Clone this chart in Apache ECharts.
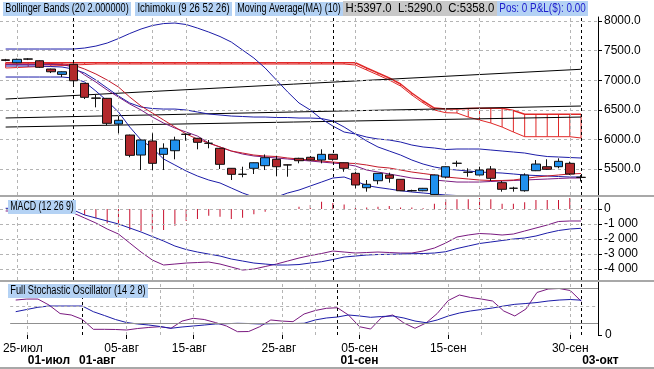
<!DOCTYPE html>
<html><head><meta charset="utf-8">
<script src="https://cdn.jsdelivr.net/npm/echarts@6/dist/echarts.min.js"></script>
<style>html,body{margin:0;padding:0;background:#fff}#c{width:654px;height:369px}</style>
</head><body><div id="c"></div>
<script>
// ---------- DATA ----------
const categories = ['b1','b2','b3','b4','b5','b6','b7','b8','b9','b10','b11','b12','b13','b14','b15','b16','b17','b18','b19','b20','b21','b22','b23','b24','b25','b26','b27','b28','b29','b30','b31','b32','b33','b34','b35','b36','b37','b38','b39','b40','b41','b42','b43','b44','b45','b46','b47','b48','b49','b50','b51','b52','b53'];
const openP  = [7345,7295,7360,7329,7189,7099,7268,6947,6700,6694,6260,6074,5736,5973,5748,5809,6088,6019,5936,5850,5512,5412,5512,5556,5664,5570,5681,5698,5652,5748,5606,5427,5184,5302,5399,5326,5135,5133,5070,5365,5598,5446,5399,5500,5269,5176,5133,5471,5539,5539,5596,5360];
const closeP = [7335,7353,7356,7218,7143,7143,6991,6711,6695,6272,6323,5731,5990,5596,5850,5990,6085,5951,5934,5579,5410,5410,5606,5691,5539,5568,5640,5652,5748,5664,5512,5230,5242,5427,5343,5133,5133,5174,5399,5539,5596,5444,5483,5343,5157,5174,5399,5584,5495,5630,5416,5358];
const lowP   = [7320,7290,7340,7206,7121,7054,6902,6682,6542,6238,6103,5698,5483,5483,5483,5664,5978,5833,5850,5500,5314,5360,5416,5483,5382,5370,5596,5640,5596,5640,5454,5174,5117,5242,5269,5128,5120,5125,5050,5340,5539,5370,5395,5297,5117,5117,5117,5465,5483,5512,5399,5290];
const highP  = [7360,7365,7372,7335,7195,7150,7279,6950,6750,6700,6395,6080,6000,6103,5934,6046,6095,6025,5990,5855,5515,5539,5610,5746,5724,5575,5690,5720,5833,5755,5610,5454,5314,5430,5438,5330,5150,5180,5405,5545,5640,5512,5539,5550,5297,5200,5427,5652,5664,5681,5625,5397];
const bbUpper = [7527,7527,7527,7527,7527,7527,7527,7544,7577,7628,7704,7789,7865,7924,7957,7966,7941,7881,7814,7738,7645,7510,7375,7206,7003,6801,6615,6497,6345,6226,6125,6091,6040,6007,5990,5956,5905,5872,5855,5829,5838,5838,5838,5821,5804,5787,5770,5736,5711,5703,5694,5686];
const bbLower = [7054,7054,7054,7054,7054,7054,7037,6969,6817,6649,6463,6209,5990,5855,5669,5568,5466,5382,5314,5264,5179,5095,5027,4993,5027,5095,5145,5213,5280,5348,5365,5297,5221,5188,5162,5133,5112,5095,5078,5061,5052,5044,5044,5044,5044,5044,5044,5044,5044,5044,5044,5044];
const kijun   = [7240,7240,7240,7240,7231,7223,7189,7121,7003,6868,6733,6615,6547,6522,6513,6513,6497,6463,6429,6412,6395,6387,6378,6378,6370,6370,6361,6361,6353,6311,6209,6091,5973,5872,5804,5736,5652,5584,5534,5500,5483,5466,5449,5441,5432,5416,5399,5390,5382,5373,5365,5365];
const tenkan  = [7265,7265,7265,7265,7265,7265,7223,7088,6969,6834,6716,6598,6497,6378,6277,6192,6125,6057,5939,5872,5804,5753,5720,5703,5686,5669,5652,5635,5618,5601,5584,5551,5483,5449,5416,5382,5348,5331,5314,5297,5280,5280,5280,5289,5297,5306,5314,5323,5331,5340,5348,5348];
const ma10    = [7290,7290,7290,7290,7282,7273,7257,7189,7105,7003,6885,6716,6564,6446,6328,6209,6091,6007,5939,5872,5804,5770,5736,5720,5711,5686,5669,5652,5635,5618,5601,5593,5568,5534,5517,5483,5449,5424,5399,5365,5348,5331,5314,5306,5306,5314,5340,5365,5382,5399,5416,5424];
const senkouA = [7206,7214,7223,7231,7240,7248,7257,7265,7273,7273,7273,7273,7273,7273,7273,7273,7273,7273,7273,7273,7273,7273,7273,7273,7273,7273,7273,7273,7273,7273,7273,7257,7172,7088,7003,6902,6750,6615,6497,6451,6446,6378,6328,6277,6209,6125,6046,6046,6046,6046,6046,6024];
const senkouB = [7295,7295,7295,7295,7295,7295,7295,7295,7295,7295,7295,7295,7295,7295,7295,7295,7295,7295,7295,7295,7295,7295,7295,7295,7295,7295,7295,7295,7295,7295,7295,7295,7206,7121,7037,6936,6784,6649,6530,6513,6513,6522,6525,6525,6525,6488,6424,6424,6424,6424,6424,6424];
const trend1 = [6682, 7185];
const trend2 = [6362, 6564];
const trend3 = [6209, 6378];
const macdHist = [0,0,0,0,0,0,-150,-400,-620,-950,-1180,-1400,-1470,-1550,-1400,-1110,-800,-670,-450,-510,-670,-580,-350,-180,-70,0,150,270,480,400,300,100,100,150,200,100,100,50,350,650,650,650,750,650,350,350,450,600,600,600,750,42];
const macdLine = [-133,-133,-133,-167,-200,-233,-267,-600,-934,-1334,-1668,-2268,-2868,-3402,-3735,-3669,-3602,-3568,-3535,-3669,-3869,-4069,-4002,-3835,-3669,-3468,-3268,-3102,-2968,-2801,-2868,-2935,-2901,-2868,-2901,-2935,-2935,-2801,-2601,-2268,-1868,-1734,-1634,-1668,-1734,-1668,-1467,-1267,-1067,-834,-800,-800];
const macdSignal = [47,33,20,0,-20,-40,-67,-400,-600,-800,-1000,-1267,-1534,-1834,-2134,-2468,-2701,-2868,-3002,-3135,-3335,-3468,-3602,-3669,-3735,-3735,-3702,-3602,-3515,-3368,-3202,-3135,-3068,-3035,-3021,-3002,-2981,-2968,-2935,-2848,-2635,-2468,-2301,-2201,-2101,-2001,-1934,-1801,-1601,-1434,-1334,-1287];
const stochK = [60.3,62,62,51.7,37,34.5,27,9.8,9.8,9.5,8.6,11.2,13,14.3,11.6,24,28.8,26.7,21.5,15.5,5.7,6,14.3,25.9,24,23,36.2,42.2,46,47,34.5,14.3,10.3,30.5,34.5,20.7,11.6,20.7,37,59.5,69,64.7,62,58.6,41.4,32.8,44.8,73.3,79.3,80.2,76.7,58];
const stochD = [40.2,44,47.8,50,50,50,50,40.2,33.6,26.7,21.5,19,17.2,14.7,11.6,13.8,15.5,17.2,19,19.5,20.2,19.8,19,19.5,19.8,19.8,20.2,25.9,29.3,31,34.5,32.8,30.5,31.9,32.8,29.3,24.1,21.2,25.9,32.8,37.9,41.4,44,46.6,50,52.9,54.3,56,58.6,60.3,61.2,60];
const priceTicks = [5500,6000,6500,7000,7500,8000];
const macdTicks = [0,-1000,-2000,-3000,-4000];
const stochLevels = [20,50,80];
const macdLast = 41.87;
const stochLast = 56.82;
const vGrid = [1,10,13,16,24,27,31,39,42,50];
const vMark = [6,29,51];
const dayLabels = {1:'25-июл',10:'05-авг',16:'15-авг',24:'25-авг',31:'05-сен',39:'15-сен',50:'30-сен'};
const monthLabels = {3:'01-июл',6:'01-авг',31:'01-сен',52:'03-окт'};
const dayShift = {1:'l8',10:'l10',16:'l8',24:'l6',31:'c',39:'c',50:'c'};
const monthShift = {3:'c',6:'r30',31:'c',52:'r16'};
const legendTexts = ['Bollinger Bands (20 2.000000)','Ichimoku (9 26 52 26)','Moving Average(MA) (10)'];
const ohlcText = 'H:5397.0  L:5290.0  C:5358.0';
const posText = 'Pos: 0 P&L($): 0.00';

// ---------- BUILD ----------
const FONT = '"Liberation Sans", Arial, sans-serif';
const lastClose = closeP[closeP.length-1];
const candleData = openP.map((o,i)=>[o, closeP[i], lowP[i], highP[i]]);
const cloudData = senkouA.map((a,i)=>[i, a, senkouB[i]]);
const NAVY = '#1c1ca8', PURPLE = '#7a1a80', RED = '#c41a2a', CLOUD = '#e02828';
function vLineData(list){ return list.map(i=>({xAxis: categories[i]})); }
function fmtThousands(v){ if(v===0) return '0'; const s=Math.abs(v).toString().replace(/\B(?=(\d{3})+(?!\d))/g,' '); return (v<0?'-':'')+s; }
const baseLbl = {fontFamily:FONT,fontSize:12,color:'#000'};
const richShift = {
  c:Object.assign({},baseLbl),
  l4:Object.assign({},baseLbl,{padding:[0,4,0,0]}),
  l6:Object.assign({},baseLbl,{padding:[0,6,0,0]}),
  l8:Object.assign({},baseLbl,{padding:[0,8,0,0]}),
  l10:Object.assign({},baseLbl,{padding:[0,10,0,0]}),
  l16:Object.assign({},baseLbl,{padding:[0,16,0,0]}),
  r16:Object.assign({},baseLbl,{padding:[0,0,0,16]}),
  r30:Object.assign({},baseLbl,{padding:[0,0,0,30]})
};
const richBold = {};
Object.keys(richShift).forEach(k=>{ richBold[k] = Object.assign({}, richShift[k], {fontWeight:'bold'}); });

const gridLine = {color:'#b4b4b4', type:[3,3], width:1};
const blackDash = {color:'#000', type:[3,3], width:1};

function xAx(gi, extra){
  return Object.assign({type:'category', gridIndex:gi, data:categories, boundaryGap:true,
    axisLine:{show:false}, axisTick:{show:false}, axisLabel:{show:false}, splitLine:{show:false}}, extra||{});
}
// text tag squeezed horizontally to a target box width
const measureCtx = document.createElement('canvas').getContext('2d');
function tag(text, x0, x1, y, size, fill, bg){
  const font = size + 'px ' + FONT;
  measureCtx.font = font;
  const w = measureCtx.measureText(text).width + 6;
  const s = Math.min(1.05, (x1 - x0) / w);
  return {type:'text', x:x0, y:y, scaleX:s, scaleY:1, originX:0, originY:0, z:60, silent:true,
    style:{text:text, font:font, fill:fill, backgroundColor:bg, padding:[1,3,1,3], verticalAlign:'top', align:'left'}};
}

const option = {
  animation:false,
  backgroundColor:'#fff',
  grid:[
    {left:0, right:56, top:17, height:178},
    {left:0, right:56, top:198, height:82},
    {left:0, right:56, top:282, height:53}
  ],
  xAxis:[
    xAx(0), xAx(1),
    xAx(2, {axisTick:{show:true, alignWithLabel:true, length:4, lineStyle:{color:'#000'}, interval:(i)=>dayLabels[i]!==undefined},
      axisLabel:{show:true, interval:(i)=>dayLabels[i]!==undefined, margin:8,
        formatter:(v,i)=>dayLabels[i]?('{'+dayShift[i]+'|'+dayLabels[i]+'}'):'', rich:richShift}}),
    xAx(2, {position:'bottom', offset:0, axisLabel:{show:true, interval:(i)=>monthLabels[i]!==undefined, margin:20,
        formatter:(v,i)=>monthLabels[i]?('{'+monthShift[i]+'|'+monthLabels[i]+'}'):'', rich:richBold}})
  ],
  yAxis:[
    {type:'value', gridIndex:0, position:'right', min:5061, max:8068, scale:true,
      axisLine:{show:true, lineStyle:{color:'#000'}}, axisTick:{show:true, customValues:priceTicks, length:4, lineStyle:{color:'#000'}},
      axisLabel:{customValues:priceTicks, formatter:v=>v.toFixed(1), color:'#000', fontSize:12, fontFamily:FONT, margin:6}, splitLine:{show:false}},
    {type:'value', gridIndex:1, position:'right', min:-4733, max:733,
      axisLine:{show:true, lineStyle:{color:'#000'}}, axisTick:{show:true, customValues:macdTicks, length:4, lineStyle:{color:'#000'}},
      axisLabel:{customValues:macdTicks, formatter:fmtThousands, color:'#000', fontSize:12, fontFamily:FONT, margin:6}, splitLine:{show:false}},
    {type:'value', gridIndex:2, position:'right', min:0, max:91.4,
      axisLine:{show:true, lineStyle:{color:'#000'}}, axisTick:{show:true, customValues:[0], length:4, lineStyle:{color:'#000'}},
      axisLabel:{customValues:[0], formatter:v=>String(v), color:'#000', fontSize:12, fontFamily:FONT, margin:7}, splitLine:{show:false}}
  ],
  series:[
    // grid 0 helpers
    {type:'line', xAxisIndex:0, yAxisIndex:0, data:[], z:0, silent:true,
      markLine:{symbol:'none', silent:true, label:{show:false}, animation:false,
        data:[].concat(priceTicks.map(v=>({yAxis:v, lineStyle:gridLine})),
                       vLineData(vGrid).map(d=>Object.assign(d,{lineStyle:gridLine})),
                       vLineData(vMark).map(d=>Object.assign(d,{lineStyle:blackDash})))}},
    {type:'custom', xAxisIndex:0, yAxisIndex:0, z:1, silent:true, data:cloudData, encode:{x:0, y:[1,2]},
      renderItem:(params, api)=>{
        const p1 = api.coord([api.value(0), api.value(1)]);
        const p2 = api.coord([api.value(0), api.value(2)]);
        return {type:'line', shape:{x1:p1[0], y1:p1[1], x2:p2[0], y2:p2[1]}, style:{stroke:CLOUD, lineWidth:1}};
      }},
    {type:'line', xAxisIndex:0, yAxisIndex:0, data:senkouA, symbol:'none', lineStyle:{color:CLOUD, width:1}, z:2, silent:true},
    {type:'line', xAxisIndex:0, yAxisIndex:0, data:senkouB, symbol:'none', lineStyle:{color:CLOUD, width:1.5}, z:2, silent:true},
    {type:'line', xAxisIndex:0, yAxisIndex:0, data:[[0,trend1[0]],[51,trend1[1]]], symbol:'none', lineStyle:{color:'#000', width:1}, z:2},
    {type:'line', xAxisIndex:0, yAxisIndex:0, data:[[0,trend2[0]],[51,trend2[1]]], symbol:'none', lineStyle:{color:'#000', width:1}, z:2},
    {type:'line', xAxisIndex:0, yAxisIndex:0, data:[[0,trend3[0]],[51,trend3[1]]], symbol:'none', lineStyle:{color:'#000', width:1}, z:2},
    {type:'line', xAxisIndex:0, yAxisIndex:0, data:bbUpper, symbol:'none', lineStyle:{color:NAVY, width:1}, z:3},
    {type:'line', xAxisIndex:0, yAxisIndex:0, data:bbLower, symbol:'none', lineStyle:{color:NAVY, width:1}, z:3},
    {type:'line', xAxisIndex:0, yAxisIndex:0, data:kijun, symbol:'none', lineStyle:{color:NAVY, width:1}, z:3},
    {type:'line', xAxisIndex:0, yAxisIndex:0, data:tenkan, symbol:'none', lineStyle:{color:PURPLE, width:1}, z:3},
    {type:'line', xAxisIndex:0, yAxisIndex:0, data:ma10, symbol:'none', lineStyle:{color:RED, width:1}, z:3},
    {type:'candlestick', xAxisIndex:0, yAxisIndex:0, data:candleData, barWidth:9, z:5,
      itemStyle:{color:'#2090ee', color0:'#b2282c', borderColor:'#101010', borderColor0:'#101010', borderWidth:1},
      markLine:{symbol:'none', silent:true, animation:false, data:[{yAxis:lastClose}], lineStyle:{opacity:0},
        label:{show:true, position:'end', distance:1, formatter:'{a|'+lastClose.toFixed(1)+'}{b|}',
          rich:{a:{backgroundColor:'#fff', borderColor:'#000', borderWidth:1, padding:[3,3,2,4], fontSize:12, fontFamily:FONT, color:'#000', height:12},
                b:{backgroundColor:'#d8a6d8', width:17, height:17}}}}},
    // grid 1
    {type:'line', xAxisIndex:1, yAxisIndex:1, data:[], z:0, silent:true,
      markLine:{symbol:'none', silent:true, label:{show:false}, animation:false,
        data:[].concat(macdTicks.map(v=>({yAxis:v, lineStyle:gridLine})),
                       vLineData(vGrid).map(d=>Object.assign(d,{lineStyle:gridLine})),
                       vLineData(vMark).map(d=>Object.assign(d,{lineStyle:blackDash})))}},
    {type:'bar', xAxisIndex:1, yAxisIndex:1, data:macdHist, barWidth:1, itemStyle:{color:'#c8102e'}, z:2,
      markLine:{symbol:'none', silent:true, animation:false, data:[{yAxis:macdLast}], lineStyle:{opacity:0},
        label:{show:true, position:'end', distance:4, offset:[0,-6], formatter:String(macdLast),
          backgroundColor:'#000', color:'#fff', padding:[1,2,0,2], fontSize:12, fontFamily:FONT}}},
    {type:'line', xAxisIndex:1, yAxisIndex:1, data:macdLine, symbol:'none', lineStyle:{color:PURPLE, width:1}, z:3},
    {type:'line', xAxisIndex:1, yAxisIndex:1, data:macdSignal, symbol:'none', lineStyle:{color:NAVY, width:1}, z:3},
    // grid 2
    {type:'line', xAxisIndex:2, yAxisIndex:2, data:[], z:0, silent:true,
      markLine:{symbol:'none', silent:true, label:{show:false}, animation:false,
        data:[].concat(stochLevels.map(v=>({yAxis:v, lineStyle: v===50?gridLine:{color:'#909090', type:'solid', width:1}})),
                       vLineData(vGrid).map(d=>Object.assign(d,{lineStyle:gridLine})),
                       vLineData(vMark).map(d=>Object.assign(d,{lineStyle:blackDash})))}},
    {type:'line', xAxisIndex:2, yAxisIndex:2, data:stochK, symbol:'none', lineStyle:{color:PURPLE, width:1}, z:3},
    {type:'line', xAxisIndex:2, yAxisIndex:2, data:stochD, symbol:'none', lineStyle:{color:NAVY, width:1}, z:3,
      markLine:{symbol:'none', silent:true, animation:false, data:[{yAxis:stochLast}], lineStyle:{opacity:0},
        label:{show:true, position:'end', distance:5, formatter:String(stochLast),
          backgroundColor:'#000', color:'#fff', padding:[2,2,1,2], fontSize:12, fontFamily:FONT}}}
  ],
  graphic:[
    {type:'rect', left:0, top:195, shape:{width:654, height:2}, style:{fill:'#a8a8a8'}, z:50, silent:true},
    {type:'rect', left:0, top:280, shape:{width:654, height:2}, style:{fill:'#a8a8a8'}, z:50, silent:true},
    {type:'rect', left:0, top:367, shape:{width:654, height:2}, style:{fill:'#a8a8a8'}, z:50, silent:true},
    tag(legendTexts[0], 3, 131, 2, 12, '#000', '#b4d2f4'),
    tag(legendTexts[1], 135, 232, 2, 12, '#000', '#b4d2f4'),
    tag(legendTexts[2], 235, 343, 2, 12, '#000', '#b4d2f4'),
    tag(ohlcText, 343, 497, 1, 13, '#000', '#c8c8c8'),
    tag(posText, 497, 588, 1, 13, '#1c1ccc', '#b4d2f4'),
    tag('MACD (12 26 9)', 8, 76, 200, 12, '#000', '#b4d2f4'),
    tag('Full Stochastic Oscillator (14 2 8)', 8, 148, 284, 12, '#000', '#b4d2f4')
  ]
};
const chart = echarts.init(document.getElementById('c'));
chart.setOption(option);
</script></body></html>
